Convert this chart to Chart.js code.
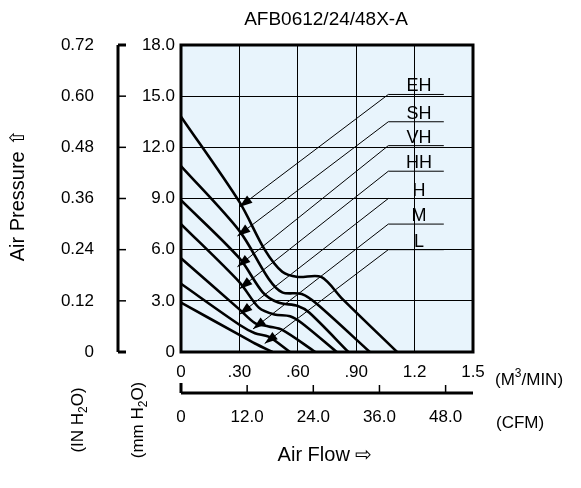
<!DOCTYPE html>
<html><head><meta charset="utf-8">
<script src="https://cdn.jsdelivr.net/npm/chart.js@4"></script>
<style>html,body{margin:0;padding:0;background:#fff}#w{width:581px;height:488px}</style>
</head><body><div id="w"><canvas id="c" width="581" height="488"></canvas></div>
<script>
const seriesNames = ["EH","SH","VH","HH","H","M","L"];
const flowEH = [0,0.3,0.43,0.52,0.6,0.72,0.83,1.11];
const presEH = [13.8,8.8,6.0,4.7,4.4,4.4,3.1,0];
const flowSH = [0,0.3,0.45,0.52,0.62,0.7,0.97];
const presSH = [10.9,7.1,4.3,3.5,3.4,2.8,0];
const flowVH = [0,0.3,0.42,0.5,0.6,0.66,0.86];
const presVH = [8.9,5.5,3.5,2.9,2.7,2.3,0];
const flowHH = [0,0.3,0.4,0.48,0.56,0.62,0.8];
const presHH = [7.5,4.1,2.6,2.2,2.1,1.7,0];
const flowH = [0,0.3,0.38,0.45,0.52,0.69];
const presH = [5.5,2.5,1.7,1.5,1.3,0];
const flowM = [0,0.3,0.38,0.45,0.56];
const presM = [4.0,1.6,1.1,0.9,0];
const flowL = [0,0.3,0.38,0.47];
const presL = [2.9,1.0,0.5,0];
const mmTicks = ["0","3.0","6.0","9.0","12.0","15.0","18.0"];
const inTicks = ["0","0.12","0.24","0.36","0.48","0.60","0.72"];
const m3Ticks = ["0",".30",".60",".90","1.2","1.5"];
const cfmTicks = ["0","12.0","24.0","36.0","48.0"];
const arrowFlow = [0.30,0.29,0.29,0.30,0.30,0.37,0.43];
const arrowPres = [8.5,6.8,5.0,3.7,2.2,1.35,0.5];
const labelPres = [15.1,13.5,12.1,10.6,9.0,7.5,6.0];

const flows=[flowEH,flowSH,flowVH,flowHH,flowH,flowM,flowL];
const press=[presEH,presSH,presVH,presHH,presH,presM,presL];
const FONT="'Liberation Sans', Arial, sans-serif";
const datasets = seriesNames.map((n,i)=>({label:n,data:flows[i].map((x,j)=>({x,y:press[i][j]})),
  borderColor:'#000',borderWidth:2.6,pointRadius:0,fill:false,tension:0.3,xAxisID:'x',yAxisID:'y'}));

const extras={id:'extras',
 beforeDraw(ch){const {ctx,chartArea:a}=ch;ctx.save();ctx.fillStyle='#e8f4fc';ctx.fillRect(a.left,a.top,a.right-a.left,a.bottom-a.top);ctx.restore();},
 afterDraw(ch){const {ctx,chartArea:a,scales:s}=ch;ctx.save();
  ctx.strokeStyle='#000';ctx.lineWidth=3;ctx.strokeRect(a.left,a.top,a.right-a.left,a.bottom-a.top);
  const xi=s.yIn.right;ctx.beginPath();ctx.moveTo(xi,a.top);ctx.lineTo(xi,a.bottom);ctx.stroke();
  inTicks.forEach((t,i)=>{const y=s.yIn.getPixelForValue(i*0.12);ctx.lineWidth=(i==0||i==6)?3:1.5;ctx.beginPath();ctx.moveTo(xi,y);ctx.lineTo(xi+8,y);ctx.stroke();});
  const yc=s.xCfm.top;ctx.lineWidth=3;ctx.beginPath();ctx.moveTo(s.xCfm.left,yc);ctx.lineTo(s.xCfm.right,yc);ctx.stroke();
  cfmTicks.forEach((t,i)=>{const x=s.xCfm.getPixelForValue(i*12);ctx.lineWidth=i==0?3:1.5;ctx.beginPath();ctx.moveTo(x,yc);ctx.lineTo(x,yc-(i==0?10:8));ctx.stroke();});
  ctx.font='18px '+FONT;ctx.fillStyle='#000';ctx.textAlign='center';ctx.textBaseline='alphabetic';
  seriesNames.forEach((n,i)=>{
   const lx=s.x.getPixelForValue(1.065), lx2=s.x.getPixelForValue(1.35), ly=s.y.getPixelForValue(labelPres[i]);
   const tx=s.x.getPixelForValue(arrowFlow[i]), ty=s.y.getPixelForValue(arrowPres[i]);
   ctx.lineWidth=1;ctx.beginPath();ctx.moveTo(lx2,ly);ctx.lineTo(lx,ly);ctx.lineTo(tx,ty);ctx.stroke();
   const ang=Math.atan2(ty-ly,tx-lx);const L=13,W=4.5;
   ctx.beginPath();ctx.moveTo(tx,ty);
   ctx.lineTo(tx-L*Math.cos(ang)+W*Math.sin(ang),ty-L*Math.sin(ang)-W*Math.cos(ang));
   ctx.lineTo(tx-L*Math.cos(ang)-W*Math.sin(ang),ty-L*Math.sin(ang)+W*Math.cos(ang));ctx.closePath();ctx.fill();
   ctx.fillText(n,(lx+lx2)/2+3,ly-3);
  });
  ctx.font='19px '+FONT;ctx.fillText('AFB0612/24/48X-A',326,25);
  ctx.font='20px '+FONT;ctx.fillText('Air Flow \u21E8',325,461);
  ctx.textAlign='left';ctx.font='17px '+FONT;
  ctx.fillText('(M',495,385);let w=ctx.measureText('(M').width;ctx.font='12px '+FONT;ctx.fillText('3',495+w,377);let w2=ctx.measureText('3').width;ctx.font='17px '+FONT;ctx.fillText('/MIN)',495+w+w2,385);
  ctx.fillText('(CFM)',496,428);
  const rot=(x,y,parts)=>{ctx.save();ctx.translate(x,y);ctx.rotate(-Math.PI/2);ctx.textAlign='left';let w=0;parts.forEach(p=>{ctx.font=p[1]+'px '+FONT;w+=ctx.measureText(p[0]).width;});let cx=-w/2;parts.forEach(p=>{ctx.font=p[1]+'px '+FONT;ctx.fillText(p[0],cx,p[2]||0);cx+=ctx.measureText(p[0]).width;});ctx.restore();};
  rot(24,195,[['Air Pressure \u21E7',20]]);
  rot(83,420,[['(IN H',17],['2',12,4],['O)',17]]);
  rot(143,420,[['(mm H',17],['2',12,4],['O)',17]]);
  ctx.restore();}};

new Chart(document.getElementById('c'),{type:'line',data:{datasets},
 options:{responsive:false,animation:false,events:[],layout:{padding:{top:45,right:108,left:0,bottom:0}},
  plugins:{legend:{display:false},tooltip:{enabled:false}},
  scales:{
   x:{type:'linear',position:'bottom',min:0,max:1.5,afterBuildTicks(sc){sc.ticks=m3Ticks.map((t,i)=>({value:i*0.3}));},
      ticks:{callback:(v,i)=>m3Ticks[i],color:'#000',font:{size:17,family:FONT},padding:10,maxRotation:0},
      grid:{color:'#000',lineWidth:1,drawTicks:false},border:{display:false},afterFit(sc){sc.height=41;}},
   xCfm:{type:'linear',position:'bottom',min:0,max:52.97,afterBuildTicks(sc){sc.ticks=cfmTicks.map((t,i)=>({value:i*12}));},
      ticks:{callback:(v,i)=>cfmTicks[i],color:'#000',font:{size:17,family:FONT},padding:6,maxRotation:0},
      grid:{display:false},border:{display:false},afterFit(sc){sc.height=95;}},
   y:{type:'linear',position:'left',min:0,max:18,afterBuildTicks(sc){sc.ticks=mmTicks.map((t,i)=>({value:i*3}));},
      ticks:{callback:(v,i)=>mmTicks[i],color:'#000',font:{size:17,family:FONT},padding:6},
      grid:{color:'#000',lineWidth:1,drawTicks:false},border:{display:false},afterFit(sc){sc.width=63;}},
   yIn:{type:'linear',position:'left',min:0,max:0.72,afterBuildTicks(sc){sc.ticks=inTicks.map((t,i)=>({value:i*0.12}));},
      ticks:{callback:(v,i)=>inTicks[i],color:'#000',font:{size:17,family:FONT},padding:16},
      grid:{display:false},border:{display:false},afterFit(sc){sc.width=118;}}
  }}, plugins:[extras]});
</script></body></html>
